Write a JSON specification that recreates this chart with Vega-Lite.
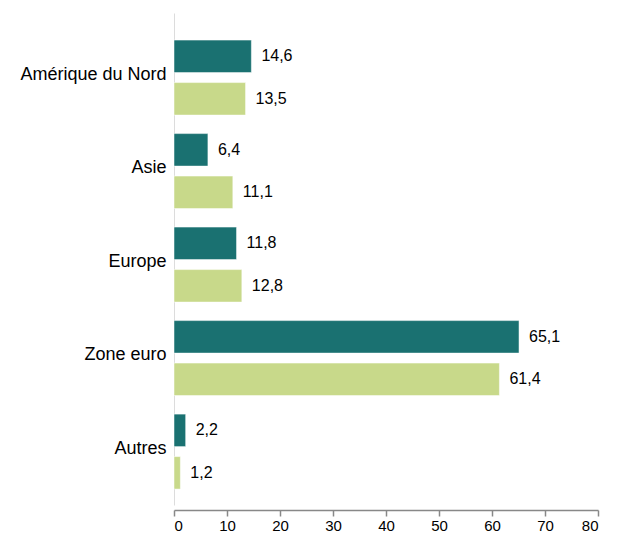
{
  "$schema": "https://vega.github.io/schema/vega-lite/v6.json",
  "width": 424,
  "height": 492,
  "autosize": "none",
  "padding": {"left": 174, "top": 13, "right": 26, "bottom": 28},
  "background": "white",
  "data": {
    "values": [
      {"region": "Amérique du Nord", "serie": "A", "value": 14.6, "label": "14,6"},
      {"region": "Amérique du Nord", "serie": "B", "value": 13.5, "label": "13,5"},
      {"region": "Asie", "serie": "A", "value": 6.4, "label": "6,4"},
      {"region": "Asie", "serie": "B", "value": 11.1, "label": "11,1"},
      {"region": "Europe", "serie": "A", "value": 11.8, "label": "11,8"},
      {"region": "Europe", "serie": "B", "value": 12.8, "label": "12,8"},
      {"region": "Zone euro", "serie": "A", "value": 65.1, "label": "65,1"},
      {"region": "Zone euro", "serie": "B", "value": 61.4, "label": "61,4"},
      {"region": "Autres", "serie": "A", "value": 2.2, "label": "2,2"},
      {"region": "Autres", "serie": "B", "value": 1.2, "label": "1,2"}
    ]
  },
  "encoding": {
    "y": {
      "field": "region",
      "type": "nominal",
      "sort": null,
      "scale": {"paddingInner": 0.198, "paddingOuter": 0.23, "align": 0.63},
      "axis": {
        "title": null,
        "ticks": false,
        "labelPadding": 8,
        "labelOffset": -3,
        "labelFontSize": 18,
        "labelColor": "#000000",
        "labelFont": "Liberation Sans",
        "domainColor": "#dcdcdc",
        "domainWidth": 1
      }
    },
    "yOffset": {
      "field": "serie",
      "type": "nominal",
      "scale": {"paddingInner": 0.235, "paddingOuter": 0}
    },
    "x": {
      "field": "value",
      "type": "quantitative",
      "scale": {"domain": [0, 80], "nice": false},
      "axis": {
        "title": null,
        "grid": false,
        "values": [0, 10, 20, 30, 40, 50, 60, 70, 80],
        "offset": 5,
        "domainColor": "#888888",
        "domainWidth": 1.5,
        "tickColor": "#888888",
        "tickWidth": 1.5,
        "tickSize": 6,
        "labelFontSize": 15,
        "labelColor": "#000000",
        "labelFont": "Liberation Sans",
        "labelPadding": 2
      }
    }
  },
  "layer": [
    {
      "mark": {"type": "bar", "stroke": "#ffffff", "strokeWidth": 0.5},
      "encoding": {
        "color": {
          "field": "serie",
          "type": "nominal",
          "scale": {"domain": ["A", "B"], "range": ["#1a7171", "#c8d98a"]},
          "legend": null
        }
      }
    },
    {
      "mark": {
        "type": "text",
        "align": "left",
        "baseline": "middle",
        "dx": 10,
        "fontSize": 16,
        "font": "Liberation Sans",
        "color": "#000000"
      },
      "encoding": {"text": {"field": "label"}}
    }
  ],
  "config": {"view": {"stroke": null}}
}
